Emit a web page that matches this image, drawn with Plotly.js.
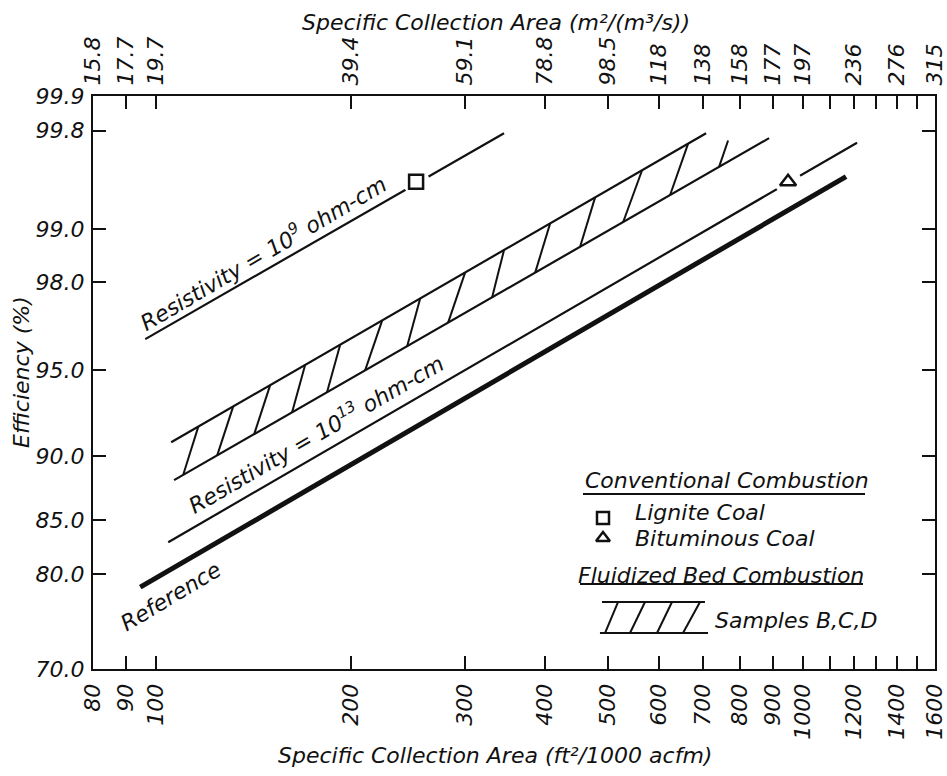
<!DOCTYPE html>
<html><head><meta charset="utf-8">
<script src="https://cdn.plot.ly/plotly-3.0.1.min.js"></script>
<style>html,body{margin:0;padding:0;background:#fff}#chart{width:947px;height:776px}</style>
</head><body><div id="chart"></div>
<script>
// ---- tick data ----
const xTickVals = [80,90,100,200,300,400,500,600,700,800,900,1000,1100,1200,1300,1400,1500,1600];
const xTickLabels = ['80','90','100','200','300','400','500','600','700','800','900','1000','','1200','','1400','','1600'];
const xTopLabels = ['15.8','17.7','19.7','39.4','59.1','78.8','98.5','118','138','158','177','197','','236','','276','','315'];
const yTickEff = [70,80,85,90,95,98,99,99.8,99.9];
const yTickLabels = ['70.0','80.0','85.0','90.0','95.0','98.0','99.0','99.8','99.9'];

// ---- series (x: ft2/1000 acfm, y: efficiency %) ----
const res9X = [96.3, 345.3];      const res9Eff = [96.28, 99.79];
const bandUpperX = [105.6, 708.8]; const bandUpperEff = [90.96, 99.79];
const bandLowerX = [106.7, 887];   const bandLowerEff = [88.25, 99.77];
const res13X = [104.5, 1213];      const res13Eff = [83.0, 99.75];
const refX = [94.6, 1166.5];       const refEff = [78.67, 99.55];
const ligniteX = [252.5];          const ligniteEff = [99.51];
const bitumX = [949];              const bitumEff = [99.51];
const hatchBottomX = [110.2,124.4,141.9,162.4,183.9,210.6,244.6,283.0,331.0,385.8,452.7,527.7,623.6];
const hatchTopX    = [116.3,131.7,150.2,170.1,192.7,223.8,256.2,300.7,345.3,406.9,477.5,564.4,664.9];
const partialHatchX = [742.4, 766.6]; const partialHatchTopEff = 99.76;

// ---- axis transform: y plotted as -ln(1-eff) on a log axis ----
const T = e => -Math.log(1 - e/100);
function onLine(X, E, x){
  const u0=Math.log10(X[0]), u1=Math.log10(X[1]);
  const v0=Math.log10(T(E[0])), v1=Math.log10(T(E[1]));
  const v = v0 + (v1-v0)*(Math.log10(x)-u0)/(u1-u0);
  return Math.pow(10, v);
}
const K = '#111';
const F = {family:'DejaVu Sans', size:22, color:K, style:'italic'};

const hx=[], hy=[];
hatchBottomX.forEach((b,i)=>{
  hx.push(b, hatchTopX[i], null);
  hy.push(onLine(bandLowerX,bandLowerEff,b), onLine(bandUpperX,bandUpperEff,hatchTopX[i]), null);
});
hx.push(partialHatchX[0], partialHatchX[1]);
hy.push(onLine(bandLowerX,bandLowerEff,partialHatchX[0]), T(partialHatchTopEff));

const line = (x,e,w)=>({x:x, y:e.map(T), mode:'lines', line:{color:K,width:w}, hoverinfo:'skip', showlegend:false});
const traces = [
  line(res9X,res9Eff,2.2),
  line(bandUpperX,bandUpperEff,2.2),
  line(bandLowerX,bandLowerEff,2.2),
  {x:hx, y:hy, mode:'lines', line:{color:K,width:2}, hoverinfo:'skip', showlegend:false, connectgaps:false},
  line(res13X,res13Eff,2.2),
  line(refX,refEff,5),
  {x:ligniteX.concat(bitumX), y:ligniteEff.concat(bitumEff).map(T), mode:'markers', marker:{symbol:'circle',size:27,color:'#fff'}, hoverinfo:'skip', showlegend:false},
  {x:ligniteX, y:ligniteEff.map(T), mode:'markers', marker:{symbol:'square-open',size:14,color:K,line:{width:2.5,color:K}}, name:'Lignite Coal', showlegend:false},
  {x:bitumX, y:bitumEff.map(T), mode:'markers', marker:{symbol:'triangle-up-open',size:14,color:K,line:{width:2.5,color:K}}, name:'Bituminous Coal', showlegend:false},
  {x:[80,1600], y:[T(70),T(70)], xaxis:'x2', mode:'markers', marker:{opacity:0}, hoverinfo:'skip', showlegend:false},
  // legend symbols on a hidden 0..1 overlay
  {x:[0.6057], y:[0.2635], xaxis:'x3', yaxis:'y3', mode:'markers', marker:{symbol:'square-open',size:12,color:K,line:{width:2.5,color:K}}, hoverinfo:'skip', showlegend:false},
  {x:[0.6057], y:[0.2286], xaxis:'x3', yaxis:'y3', mode:'markers', marker:{symbol:'triangle-up-open',size:12,color:K,line:{width:2.5,color:K}}, hoverinfo:'skip', showlegend:false}
];

const xr = [Math.log10(79.95), Math.log10(1601)];
const baseX = {type:'log', range:xr, tickmode:'array', tickvals:xTickVals, ticks:'inside', ticklen:13, tickwidth:2, tickcolor:K,
  showline:true, linewidth:2, linecolor:K, showgrid:false, zeroline:false, tickangle:-90, tickfont:F};
const A = (text,x,y,extra)=>Object.assign({text:text, xref:'paper', yref:'paper', x:x, y:y, xanchor:'center', yanchor:'middle', showarrow:false, font:F}, extra||{});
const layout = {
  width:947, height:776, margin:{l:93,r:12,t:96,b:107},
  paper_bgcolor:'#fff', plot_bgcolor:'#fff', showlegend:false,
  xaxis: Object.assign({}, baseX, {ticktext:xTickLabels, side:'bottom', ticklabelstandoff:4}),
  xaxis2: Object.assign({}, baseX, {ticktext:xTopLabels, side:'top', overlaying:'x', anchor:'y', ticklabelstandoff:4}),
  yaxis: {type:'log', range:[Math.log10(T(70)), Math.log10(T(99.9))], tickmode:'array', tickvals:yTickEff.map(T), ticktext:yTickLabels,
    ticks:'inside', ticklen:13, tickwidth:2, tickcolor:K, showline:true, linewidth:2, linecolor:K, mirror:'ticks',
    showgrid:false, zeroline:false, tickfont:F, ticklabelstandoff:2},
  xaxis3: {overlaying:'x', range:[0,1], visible:false, anchor:'y3'},
  yaxis3: {overlaying:'y', range:[0,1], visible:false, anchor:'x3'},
  annotations: [
    A('Specific Collection Area (m²/(m³/s))', 0.4786, 1.1291),
    A('Specific Collection Area (ft²/1000 acfm)', 0.4774, -0.1501),
    A('Efficiency (%)', -0.0855, 0.5183, {textangle:-90}),
    A('Resistivity = 10<sup>9</sup> ohm-cm', 0.2019, 0.7282, {textangle:-30.5}),
    A('Resistivity = 10<sup>13</sup> ohm-cm', 0.2648, 0.4123, {textangle:-30.2}),
    A('Reference', 0.0926, 0.1257, {textangle:-31}),
    A('Conventional Combustion', 0.7530, 0.3298),
    A('Lignite Coal', 0.6413, 0.2723, {xanchor:'left'}),
    A('Bituminous Coal', 0.6413, 0.2269, {xanchor:'left'}),
    A('Fluidized Bed Combustion', 0.7464, 0.1640),
    A('Samples B,C,D', 0.7363, 0.0855, {xanchor:'left'})
  ],
  shapes: [
    {type:'line', xref:'paper', yref:'paper', x0:0.5819, x1:0.9169, y0:0.3054, y1:0.3054, line:{color:K,width:2}},
    {type:'line', xref:'paper', yref:'paper', x0:0.5784, x1:0.9145, y0:0.1483, y1:0.1483, line:{color:K,width:2}},
    {type:'line', xref:'paper', yref:'paper', x0:0.6045, x1:0.7268, y0:0.1169, y1:0.1169, line:{color:K,width:2}},
    {type:'line', xref:'paper', yref:'paper', x0:0.6021, x1:0.7304, y0:0.0628, y1:0.0628, line:{color:K,width:2}}
  ]
};
// legend hatch strokes
[[605,618],[630,645],[657,672],[683,700]].forEach(p=>{
  layout.shapes.push({type:'line', xref:'paper', yref:'paper', x0:(p[0]-93)/842, x1:(p[1]-93)/842, y0:0.0628, y1:0.1169, line:{color:K,width:2}});
});
Plotly.newPlot('chart', traces, layout, {displayModeBar:false, staticPlot:true});
</script></body></html>
